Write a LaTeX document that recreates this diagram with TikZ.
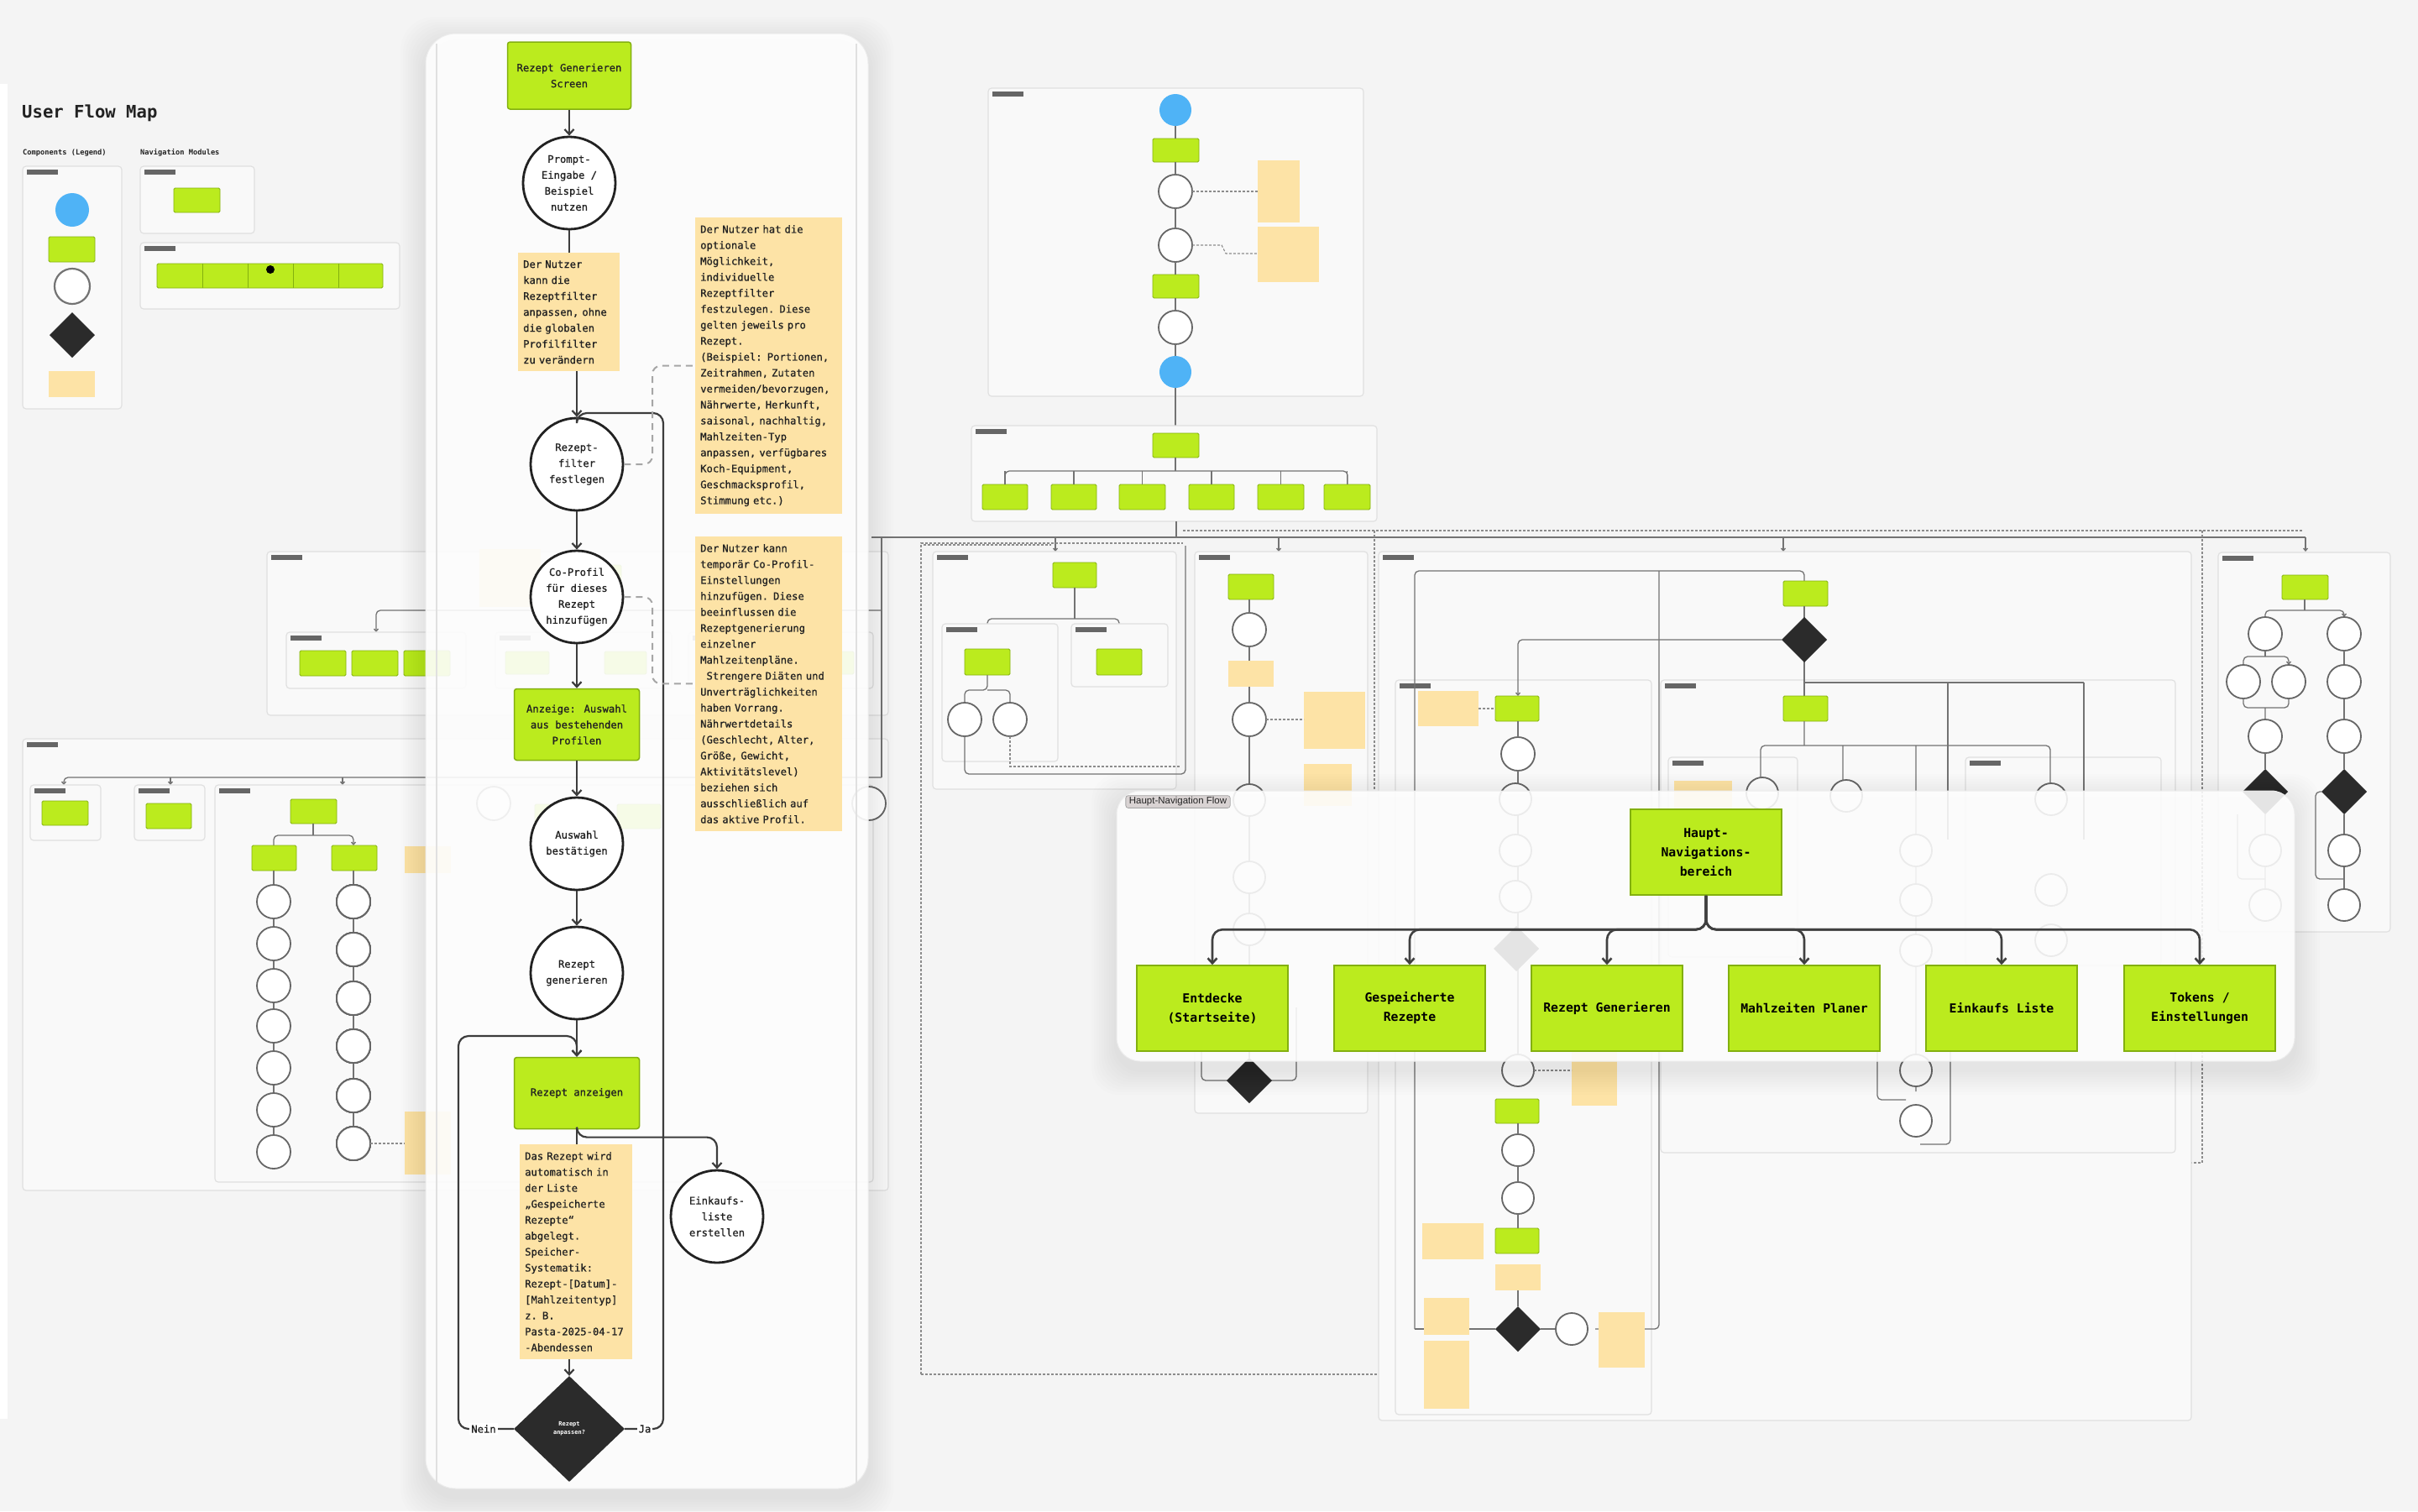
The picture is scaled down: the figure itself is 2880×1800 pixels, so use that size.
\documentclass[tikz,border=0pt]{standalone}
\usepackage{fontspec}
\setmonofont{DejaVu Sans Mono}
\newfontfamily\pmono[FakeBold=0.9]{DejaVu Sans Mono}
\newfontfamily\tagfont{Liberation Sans}
\usetikzlibrary{arrows.meta,shapes.geometric,calc}
\definecolor{bgc}{HTML}{F4F4F4}
\definecolor{framec}{HTML}{F9F9F9}
\definecolor{framed}{HTML}{E0E0E0}
\definecolor{gfill}{HTML}{BBEB1E}
\definecolor{gdraw}{HTML}{83B00F}
\definecolor{notec}{HTML}{FDE3A6}
\definecolor{bluec}{HTML}{4FB3F6}
\definecolor{diamc}{HTML}{2B2B2B}
\definecolor{inkc}{HTML}{222222}
\definecolor{linec}{HTML}{3C3C3C}
\definecolor{tagc}{HTML}{D9D3D3}
\newcommand\mkfr[4]{\draw[bgfr] (#1,#2) rectangle (#3,#4); \fill[black!60] ({#1+5},{#2+4}) rectangle ({#1+42},{#2+10});}
\newcommand\mkg[4]{\draw[bgg] (#1,#2) rectangle (#3,#4);}
\newcommand\mkc[3]{\draw[bgcir] (#1,#2) circle[radius=#3];}
\newcommand\mkn[4]{\fill[notec] (#1,#2) rectangle (#3,#4);}
\newcommand\mkd[3]{\fill[diamc] ({#1-#3},#2) -- (#1,{#2-#3}) -- ({#1+#3},#2) -- (#1,{#2+#3}) -- cycle;}
\begin{document}
\begin{tikzpicture}[x=1pt,y=-1pt,
  bgfr/.style={draw=framed, fill=framec, line width=1.2pt, rounded corners=4pt},
  bgg/.style={draw=gdraw, fill=gfill, line width=0.8pt, rounded corners=1.5pt},
  bgcir/.style={draw=black!60, fill=white, line width=1.8pt},
  bgl/.style={draw=black!55, line width=1.3pt, rounded corners=5pt},
  bga/.style={bgl, -{Straight Barb[length=3pt,width=5pt]}},
  bgd/.style={draw=black!45, line width=1.1pt, dash pattern=on 3pt off 2pt},
  lbox/.style={draw=gdraw, fill=gfill, line width=1.5pt, rounded corners=3pt, minimum width=149pt, minimum height=85pt, align=center, text=inkc, font=\pmono\fontsize{12.2}{19}\selectfont},
  lcirc/.style={circle, draw=inkc, fill=white, line width=2.8pt, minimum size=110pt, inner sep=0pt, align=center, text=inkc, font=\pmono\fontsize{12.2}{19}\selectfont},
  lnote/.style={fill=notec, anchor=north west, align=left, inner xsep=6pt, inner ysep=9pt, text=inkc, font=\pmono\fontsize{12.2}{19}\selectfont},
  ldiam/.style={diamond, fill=diamc, minimum width=132pt, minimum height=126pt, inner sep=0pt, align=center, text=white, font=\ttfamily\bfseries\fontsize{7}{10}\selectfont},
  fline/.style={draw=linec, line width=2.2pt, rounded corners=12pt},
  flow/.style={fline, -{Straight Barb[length=6pt,width=11pt]}},
  dashc/.style={draw=black!35, line width=2pt, dash pattern=on 8pt off 6pt, rounded corners=10pt},
  lbl/.style={fill=white, inner sep=2pt, text=inkc, font=\pmono\fontsize{12.2}{15}\selectfont},
  hbox/.style={draw=gdraw, fill=gfill, line width=1.6pt, minimum width=180pt, minimum height=102pt, align=center, text=black, font=\ttfamily\bfseries\fontsize{14.8}{23}\selectfont},
  hflow/.style={draw=black!75, line width=2.6pt, rounded corners=12pt, -{Straight Barb[length=6pt,width=11pt]}},
  tagbox/.style={fill=tagc, draw=black!35, line width=0.8pt, rounded corners=3pt, inner xsep=4pt, inner ysep=2pt, font=\tagfont\fontsize{11.5}{13}\selectfont, text=black!85}
]
% ---------------- canvas
\path[use as bounding box, fill=bgc] (0,0) rectangle (2880,1800);
\fill[white] (0,100) rectangle (9,1690);

% ---------------- header and legend
\node[anchor=west, inner sep=0pt, font=\ttfamily\bfseries\fontsize{20.6}{24}\selectfont, text=inkc] (title) at (26,135) {User Flow Map};
\node[anchor=west, inner sep=0pt, font=\ttfamily\bfseries\fontsize{8.7}{10}\selectfont, text=inkc] (leg) at (27,182) {Components (Legend)};
\node[anchor=west, inner sep=0pt, font=\ttfamily\bfseries\fontsize{8.7}{10}\selectfont, text=inkc] (navm) at (167,182) {Navigation Modules};
\mkfr{27}{198}{145}{487}
\fill[bluec] (86,250) circle[radius=20];
\mkg{58}{282}{113}{312}
\draw[draw=black!55, fill=white, line width=2.2pt] (86,341) circle[radius=21];
\mkd{86}{399}{27}
\mkn{58}{442}{113}{473}
\mkfr{167}{198}{303}{278}
\mkg{207}{224}{262}{253}
\mkfr{167}{289}{476}{368}
\mkg{187}{314}{456}{343}
\foreach \x in {241,295,349,403} \draw[gdraw, line width=0.8pt] (\x,314) -- (\x,343);
\fill[black] (322,321) circle[radius=5];

% ---------------- onboarding flow
\mkfr{1177}{105}{1624}{472}
\fill[bluec] (1400,131) circle[radius=19];
\mkg{1373}{165}{1428}{193}
\mkc{1400}{228}{20}
\mkc{1400}{292}{20}
\mkg{1373}{327}{1428}{355}
\mkc{1400}{390}{20}
\fill[bluec] (1400,443) circle[radius=19];
\draw[bgl] (1400,150) -- (1400,165) (1400,193) -- (1400,208) (1400,248) -- (1400,272) (1400,312) -- (1400,327) (1400,355) -- (1400,370) (1400,410) -- (1400,424) (1400,462) -- (1400,516);
\mkn{1498}{191}{1548}{265}
\mkn{1498}{270}{1571}{336}
\draw[bgd] (1420,228) -- (1498,228);
\draw[bgd] (1420,292) -- (1455,292) -- (1460,302) -- (1498,302);

% ---------------- main navigation flow (background)
\mkfr{1157}{507}{1640}{621}
\mkg{1373}{516}{1428}{545}
\draw[bgl] (1400,545) -- (1400,561);
\draw[bgl] (1197,577) -- (1197,561) -- (1605,561) -- (1605,577);
\foreach \a/\b in {1170/1224,1252/1306,1333/1388,1416/1470,1498/1553,1577/1632}{
  \mkg{\a}{577}{\b}{607}
  \draw[bgl] ({(\a+\b)/2},561) -- ({(\a+\b)/2},577);
}
\draw[bgl, line width=2.2pt] (1038,640) -- (2746,640);
\draw[bgd] (1409,632) -- (2742,632);
\draw[bgl, line width=2pt] (1401,621) -- (1401,640);
\foreach \x in {1257,1523,2124,2746} \draw[bga] (\x,640) -- (\x,657);
\draw[bgd] (1100,649) -- (1252,649);
\draw[bgd] (1097,1637) -- (1097,647) -- (1409,647);
\draw[bgd] (1097,1637) -- (1694,1637);
\draw[bgd] (1637,632) -- (1637,940);
\draw[bgd] (2623,632) -- (2623,1385) -- (2198,1385) -- (2198,992);

% ---------------- saved recipes flow
\mkfr{1111}{657}{1401}{940}
\mkg{1254}{670}{1306}{700}
\draw[bgl] (1280,700) -- (1280,737);
\draw[bgl] (1176,760) -- (1176,737) -- (1333,737) -- (1333,760);
\mkfr{1122}{743}{1260}{907}
\mkfr{1276}{743}{1391}{818}
\mkg{1149}{773}{1203}{804}
\mkg{1306}{773}{1360}{804}
\draw[bgl] (1176,804) -- (1176,822) -- (1149,822) -- (1149,836) (1176,822) -- (1203,822) -- (1203,836);
\mkc{1149}{857}{20}
\mkc{1203}{857}{20}
\draw[bgl] (1149,877) -- (1149,922) -- (1412,922) -- (1412,650);
\draw[bgd] (1203,877) -- (1203,913) -- (1405,913);

% ---------------- recipe generation flow (right side)
\mkfr{1423}{657}{1629}{1326}
\mkg{1463}{684}{1517}{714}
\mkc{1488}{750}{20}
\mkn{1463}{787}{1517}{818}
\mkc{1488}{857}{20}
\mkn{1553}{824}{1626}{892}
\mkn{1553}{910}{1610}{960}
\draw[bgl] (1488,714) -- (1488,730) (1488,770) -- (1488,787) (1488,818) -- (1488,837) (1488,877) -- (1488,1260);
\draw[bgd] (1508,857) -- (1553,857);
\draw[bgl] (1431,1200) -- (1431,1287) -- (1544,1287) -- (1544,1200);
\mkc{1488}{953}{19}
\mkc{1488}{1045}{19}
\mkc{1488}{1107}{19}
\mkd{1488}{1287}{27}

% ---------------- meal plan flow
\mkfr{1642}{657}{2610}{1692}
\mkfr{1662}{810}{1967}{1685}
\mkfr{1978}{810}{2591}{1373}
\mkfr{1987}{902}{2141}{1140}
\mkfr{2341}{902}{2574}{1150}
\draw[bgl] (1685,1583) -- (1685,680) -- (2149,680) -- (2149,692);
\draw[bgl] (1976,680) -- (1976,1583) -- (1900,1583);
\draw[bgl] (1685,1583) -- (1781,1583);
\mkg{2124}{692}{2177}{722}
\draw[bgl] (2149,722) -- (2149,829);
\mkd{2149}{762}{27}
\draw[bga] (2122,762) -- (1808,762) -- (1808,829);
\mkg{1781}{829}{1833}{859}
\mkn{1689}{823}{1761}{865}
\draw[bgd] (1761,844) -- (1781,844);
\mkc{1808}{898}{20}
\draw[bgl] (1808,859) -- (1808,878) (1808,918) -- (1808,1255);
\mkg{2124}{829}{2177}{859}
\draw[bgl] (2149,813) -- (2482,813) (2320,813) -- (2320,1000) (2482,813) -- (2482,1000);
\draw[bgl] (2149,859) -- (2149,888) (2097,950) -- (2097,888) -- (2442,888) -- (2442,950) (2195,888) -- (2195,950) (2282,888) -- (2282,1300);
\mkn{1994}{930}{2063}{990}
\mkc{1805}{952}{19}
\mkc{1805}{1013}{19}
\mkc{1805}{1068}{19}
\mkd{1806}{1130}{27}
\mkc{2099}{945}{19}
\mkc{2199}{948}{19}
\mkc{2282}{1013}{19}
\mkc{2282}{1072}{19}
\mkc{2282}{1132}{19}
\mkc{2443}{952}{19}
\mkc{2443}{1060}{19}
\mkc{2443}{1120}{19}
\mkn{2360}{1180}{2410}{1230}
% lower meal column
\mkn{1872}{1250}{1926}{1317}
\mkc{1808}{1275}{19}
\draw[bgd] (1827,1275) -- (1872,1275);
\mkg{1781}{1309}{1833}{1338}
\mkc{1808}{1370}{19}
\mkc{1808}{1427}{19}
\mkg{1781}{1463}{1833}{1493}
\mkn{1781}{1506}{1835}{1537}
\draw[bgl] (1808,1338) -- (1808,1351) (1808,1389) -- (1808,1408) (1808,1446) -- (1808,1463) (1808,1537) -- (1808,1556);
\mkd{1808}{1583}{27}
\draw[bgl] (1835,1583) -- (1853,1583);
\mkc{1872}{1583}{19}
\mkn{1694}{1457}{1767}{1500}
\mkn{1696}{1546}{1750}{1590}
\mkn{1696}{1597}{1750}{1678}
\mkn{1904}{1563}{1959}{1629}
\mkc{2282}{1275}{19}
\mkc{2282}{1335}{19}
\draw[bgl] (2236,1200) -- (2236,1310) -- (2270,1310);
\draw[bgl] (2323,1200) -- (2323,1363) -- (2287,1363);

% ---------------- shopping list flow
\mkfr{2642}{658}{2847}{1110}
\mkg{2718}{685}{2773}{714}
\draw[bgl] (2745,714) -- (2745,727);
\draw[bga] (2698,735) -- (2698,727) -- (2792,727) -- (2792,735);
\mkc{2698}{755}{20}
\mkc{2792}{755}{20}
\draw[bgl] (2698,775) -- (2698,782);
\draw[bga] (2672,792) -- (2672,782) -- (2726,782) -- (2726,792);
\mkc{2672}{812}{20}
\mkc{2726}{812}{20}
\draw[bgl] (2672,832) -- (2672,843) -- (2726,843) -- (2726,832) (2698,843) -- (2698,857);
\mkc{2698}{877}{20}
\draw[bgl] (2698,897) -- (2698,916);
\mkd{2698}{943}{27}
\mkc{2698}{1013}{19}
\mkc{2698}{1078}{19}
\draw[bgl] (2698,970) -- (2698,994) (2698,1032) -- (2698,1059) (2665,970) -- (2665,1047) -- (2698,1047);
\draw[bgl] (2792,775) -- (2792,792) (2792,832) -- (2792,857) (2792,897) -- (2792,916) (2792,970) -- (2792,994) (2792,1033) -- (2792,1058);
\mkc{2792}{812}{20}
\mkc{2792}{877}{20}
\mkd{2792}{943}{27}
\mkc{2792}{1013}{19}
\mkc{2792}{1078}{19}
\draw[bgl] (2765,943) -- (2758,943) -- (2758,1047) -- (2792,1047);

% ---------------- discover flow (left background)
\mkfr{318}{657}{1058}{852}
\draw[bgl] (1050,640) -- (1050,727);
\draw[bga] (1050,727) -- (448,727) -- (448,753);
\mkfr{341}{753}{555}{820}
\mkfr{590}{753}{800}{820}
\mkfr{820}{753}{1040}{820}
\mkg{357}{775}{412}{805}
\mkg{419}{775}{474}{805}
\mkg{481}{775}{536}{805}
\mkg{602}{776}{654}{803}
\mkg{720}{776}{770}{803}
\mkg{841}{776}{892}{803}
\mkg{965}{776}{1017}{803}
\mkn{571}{654}{644}{723}
\mkg{686}{673}{740}{701}

% ---------------- tokens / settings flow
\mkfr{27}{880}{1058}{1418}
\draw[bgl] (1050,727) -- (1050,926);
\draw[bga] (1050,926) -- (76,926) -- (76,935);
\draw[bga] (203,926) -- (203,935);
\draw[bga] (408,926) -- (408,935);
\mkfr{36}{935}{120}{1001}
\mkfr{160}{935}{244}{1001}
\mkfr{256}{935}{1040}{1408}
\mkg{50}{954}{105}{983}
\mkg{174}{957}{228}{987}
\mkg{346}{952}{401}{981}
\draw[bgl] (373,981) -- (373,995);
\draw[bga] (326,1007) -- (326,995) -- (421,995) -- (421,1007);
\mkg{300}{1007}{353}{1037}
\mkg{395}{1007}{449}{1037}
\draw[bgl] (326,1037) -- (326,1372) (421,1037) -- (421,1362);
\foreach \y in {1074,1124,1174,1222,1272,1322,1372} \mkc{326}{\y}{20}
\foreach \y in {1074,1131,1189,1246,1305,1362} \mkc{421}{\y}{20}
\mkn{482}{1008}{537}{1040}
\mkn{482}{1324}{537}{1399}
\draw[bgd] (441,1362) -- (482,1362);
\mkc{588}{957}{20}
\mkg{637}{958}{691}{987}
\mkg{735}{958}{787}{987}
\mkg{831}{958}{895}{987}
\mkc{1035}{957}{20}

% ================= LEFT HIGHLIGHT PANEL
\foreach \s in {3,6,...,30}
  \fill[black, opacity=0.009, rounded corners=40pt] ({507-\s},{40-\s+10}) rectangle ({1034+\s},{1773+\s+10});
\fill[white, opacity=0.9, rounded corners=36pt] (507,40) rectangle (1034,1773);
\draw[black!7, line width=1pt, rounded corners=36pt] (507,40) rectangle (1034,1773);
\draw[framed, line width=1.3pt] (520,52) -- (520,1768) (1020,52) -- (1020,1768);

\node[lbox, minimum width=147pt, minimum height=80pt] (screen) at (678,90) {Rezept Generieren\\Screen};
\node[lcirc] (prompt) at (678,218) {Prompt-\\Eingabe /\\Beispiel\\nutzen};
\node[lnote, text width=109pt] (n1) at (617,301) {Der Nutzer\\kann die\\Rezeptfilter\\anpassen, ohne\\die globalen\\Profilfilter\\zu verändern};
\node[lcirc] (filter) at (687,553) {Rezept-\\filter\\festlegen};
\node[lcirc] (coprof) at (687,711) {Co-Profil\\für dieses\\Rezept\\hinzufügen};
\node[lbox] (anzeige) at (687,863) {Anzeige: Auswahl\\aus bestehenden\\Profilen};
\node[lcirc] (bestaet) at (687,1005) {Auswahl\\bestätigen};
\node[lcirc] (gener) at (687,1159) {Rezept\\generieren};
\node[lbox] (anzeigen) at (687,1302) {Rezept anzeigen};
\node[lnote, text width=122pt] (n3) at (619,1363) {Das Rezept wird\\automatisch in\\der Liste\\„Gespeicherte\\Rezepte“\\abgelegt.\\Speicher-\\Systematik:\\Rezept-{[}Datum{]}-\\{[}Mahlzeitentyp{]}\\z. B.\\Pasta-2025-04-17\\-Abendessen};
\node[ldiam] (dec) at (678,1702) {Rezept\\anpassen?};
\node[lcirc] (einkauf) at (854,1449) {Einkaufs-\\liste\\erstellen};
\node[lnote, text width=163pt] (na) at (828,259) {Der Nutzer hat die\\optionale\\Möglichkeit,\\individuelle\\Rezeptfilter\\festzulegen. Diese\\gelten jeweils pro\\Rezept.\\(Beispiel: Portionen,\\Zeitrahmen, Zutaten\\vermeiden/bevorzugen,\\Nährwerte, Herkunft,\\saisonal, nachhaltig,\\Mahlzeiten-Typ\\anpassen, verfügbares\\Koch-Equipment,\\Geschmacksprofil,\\Stimmung etc.)};
\node[lnote, text width=163pt] (nb) at (828,639) {Der Nutzer kann\\temporär Co-Profil-\\Einstellungen\\hinzufügen. Diese\\beeinflussen die\\Rezeptgenerierung\\einzelner\\Mahlzeitenpläne.\\\hspace*{7.3pt}Strengere Diäten und\\Unverträglichkeiten\\haben Vorrang.\\Nährwertdetails\\(Geschlecht, Alter,\\Größe, Gewicht,\\Aktivitätslevel)\\beziehen sich\\ausschließlich auf\\das aktive Profil.};

% connectors
\draw[flow] (screen) -- (prompt);
\draw[fline] (prompt) -- (n1.north -| prompt);
\draw[fline] (dec.east) -| (790,492) -| (filter.north);
\draw[flow] (n1.south -| filter) -- (filter);
\draw[flow] (filter) -- (coprof);
\draw[flow] (coprof) -- (anzeige);
\draw[flow] (anzeige) -- (bestaet);
\draw[flow] (bestaet) -- (gener);
\draw[flow] (gener) -- (anzeigen);
\draw[fline] (anzeigen.south) -- (n3.north -| anzeigen);
\draw[flow] (anzeigen.south) |- ($(einkauf.north)+(0,-38)$) -- (einkauf.north);
\draw[flow] (n3.south -| dec) -- (dec.north);
\draw[flow] (dec.west) -| (546,1234) -| (anzeigen.north);
\draw[dashc] (filter.east) -- (777,553) |- (na.west);
\draw[dashc] (coprof.east) -- (777,711) |- (nb.west);
\node[lbl] (ja) at (768,1702) {Ja};
\node[lbl] (nein) at (576,1702) {Nein};

% ================= HAUPT-NAVIGATION PANEL
\foreach \s in {3,6,...,30}
  \fill[black, opacity=0.009, rounded corners=32pt] ({1330-\s},{942-\s+10}) rectangle ({2733+\s},{1264+\s+10});
\fill[white, opacity=0.88, rounded corners=28pt] (1330,942) rectangle (2733,1264);
\draw[black!7, line width=1pt, rounded corners=28pt] (1330,942) rectangle (2733,1264);
\node[tagbox] (htag) at (1403,955) {Haupt-Navigation Flow};

\node[hbox] (haupt) at (2032,1015) {Haupt-\\Navigations-\\bereich};
\node[hbox] (h1) at (1444,1201) {Entdecke\\(Startseite)};
\node[hbox] (h2) at (1679,1201) {Gespeicherte\\Rezepte};
\node[hbox] (h3) at (1914,1201) {Rezept Generieren};
\node[hbox] (h4) at (2149,1201) {Mahlzeiten Planer};
\node[hbox] (h5) at (2384,1201) {Einkaufs Liste};
\node[hbox] (h6) at (2620,1201) {Tokens /\\Einstellungen};
\foreach \b in {h1,h2,h3,h4,h5,h6}
  \draw[hflow] (haupt.south) |- ($(\b.north)+(0,-42)$) -- (\b.north);
\end{tikzpicture}
\end{document}
